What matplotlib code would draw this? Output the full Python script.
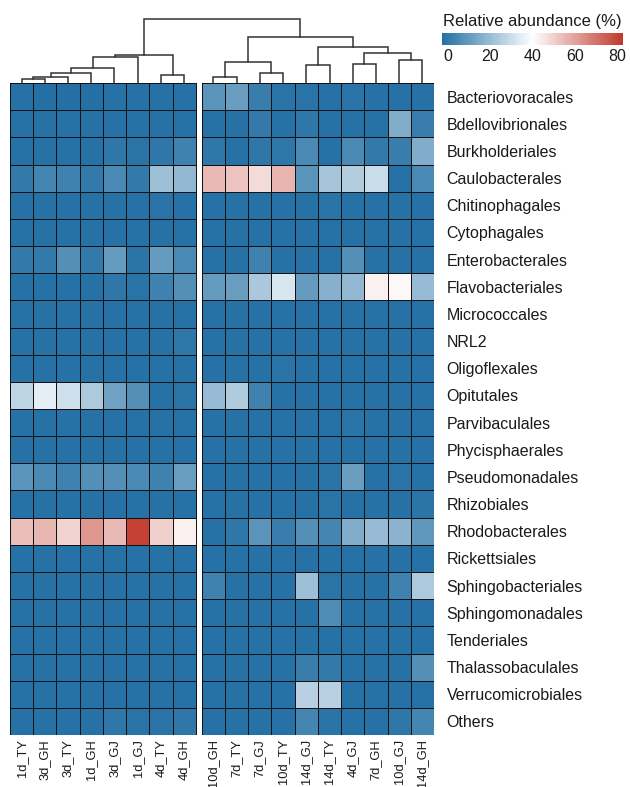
import numpy as np
import matplotlib
matplotlib.use("Agg")
import matplotlib.pyplot as plt
from matplotlib.colors import LinearSegmentedColormap, Normalize
from matplotlib.cm import ScalarMappable

plt.rcParams['font.family'] = ['Liberation Sans', 'DejaVu Sans']

# Orders (rows) and samples (columns, in clustered order)
orders = ["Bacteriovoracales", "Bdellovibrionales", "Burkholderiales", "Caulobacterales",
          "Chitinophagales", "Cytophagales", "Enterobacterales", "Flavobacteriales",
          "Micrococcales", "NRL2", "Oligoflexales", "Opitutales", "Parvibaculales",
          "Phycisphaerales", "Pseudomonadales", "Rhizobiales", "Rhodobacterales",
          "Rickettsiales", "Sphingobacteriales", "Sphingomonadales", "Tenderiales",
          "Thalassobaculales", "Verrucomicrobiales", "Others"]

samples_a = ["1d_TY", "3d_GH", "3d_TY", "1d_GH", "3d_GJ", "1d_GJ", "4d_TY", "4d_GH"]
samples_b = ["10d_GH", "7d_TY", "7d_GJ", "10d_TY", "14d_GJ", "14d_TY", "4d_GJ", "7d_GH",
             "10d_GJ", "14d_GH"]

# Relative abundance (%), cluster 1 (early samples)
abund_a = [
    [0.5, 0.3, 0.3, 0.3, 0.5, 0.5, 0.5, 0.5],
    [0.5, 0.5, 0.5, 0.5, 0.5, 0.5, 0.5, 0.5],
    [0.5, 0.5, 0.5, 0.5, 2, 1, 2, 5],
    [3, 6, 5, 3, 7, 3, 22, 20],
    [0.5, 0.5, 0.5, 0.5, 0.5, 0.5, 1, 0.5],
    [0.5, 0.5, 0.5, 0.5, 0.5, 0.5, 0.5, 0.5],
    [3, 3, 9, 3, 12, 1.5, 12, 7],
    [0.5, 0.5, 0.5, 0.5, 2, 1, 5, 9],
    [0.5, 0.5, 0.5, 0.5, 0.5, 0.5, 0.5, 0.5],
    [0.5, 0.5, 0.5, 0.5, 0.5, 0.5, 0.5, 2],
    [0.5, 0.5, 0.5, 0.5, 0.5, 0.5, 0.5, 0.5],
    [28, 35, 31, 25, 14, 9, 0.5, 1],
    [0.5, 0.5, 0.5, 0.5, 0.5, 0.5, 0.5, 0.5],
    [0.5, 0.5, 0.5, 0.5, 0.5, 0.5, 0.5, 0.5],
    [10, 7, 5, 9, 9, 7, 5, 13],
    [0.5, 0.5, 0.5, 0.5, 0.5, 0.5, 0.5, 0.5],
    [53, 54.5, 49, 61, 54, 78, 49.5, 43],
    [0.5, 0.5, 0.5, 0.5, 0.5, 0.5, 0.5, 0.5],
    [0.5, 0.5, 0.5, 0.5, 0.5, 0.5, 0.5, 0.5],
    [0.5, 0.5, 0.5, 0.5, 0.5, 0.5, 0.5, 0.5],
    [0.5, 0.5, 0.5, 0.5, 0.5, 0.5, 0.5, 0.5],
    [0.5, 0.5, 0.5, 0.5, 0.5, 0.5, 0.5, 0.5],
    [0.5, 0.5, 0.5, 0.5, 0.5, 0.5, 0.5, 0.5],
    [0.5, 0.5, 0.5, 0.5, 2, 1, 1, 2],
]

# Relative abundance (%), cluster 2 (later samples)
abund_b = [
    [10, 13, 4, 1, 1, 0.5, 1.5, 0.5, 0.5, 0.5],
    [0.5, 0.5, 3, 0.5, 2, 0.5, 0.5, 0.5, 17, 4],
    [2, 0.5, 2, 2, 7, 0.5, 7, 3, 4, 17],
    [54, 52, 47, 55, 10, 24, 26, 30, 0.5, 7],
    [0.5, 0.5, 0.5, 0.5, 0.5, 1.5, 0.5, 0.5, 0.5, 0.5],
    [0.5, 0.5, 0.5, 0.5, 0.5, 0.5, 0.5, 0.5, 0.5, 0.5],
    [0.5, 0.5, 5, 0.5, 0.5, 0.5, 9, 0.5, 0.5, 0.5],
    [12, 13, 24.5, 33, 12, 18, 20, 43, 41.5, 21],
    [0.5, 0.5, 0.5, 0.5, 0.5, 0.5, 0.5, 0.5, 0.5, 0.5],
    [0.5, 0.5, 0.5, 0.5, 0.5, 0.5, 0.5, 0.5, 0.5, 0.5],
    [0.5, 0.5, 0.5, 1.5, 0.5, 0.5, 0.5, 0.5, 0.5, 0.5],
    [21, 25.5, 5, 0.5, 0.5, 0.5, 0.5, 0.5, 0.5, 0.5],
    [0.5, 0.5, 0.5, 0.5, 0.5, 0.5, 1.5, 0.5, 0.5, 0.5],
    [0.5, 0.5, 0.5, 0.5, 0.5, 0.5, 0.5, 0.5, 0.5, 0.5],
    [0.5, 0.5, 0.5, 0.5, 0.5, 1.5, 13, 0.5, 1.5, 0.5],
    [0.5, 0.5, 0.5, 0.5, 0.5, 1.5, 0.5, 0.5, 0.5, 1.5],
    [0.5, 2, 10, 4, 9, 6, 17, 21, 19, 11],
    [0.5, 0.5, 0.5, 0.5, 0.5, 0.5, 0.5, 0.5, 0.5, 0.5],
    [5, 0.5, 0.5, 0.5, 22, 1, 0.5, 0.5, 5, 25],
    [0.5, 0.5, 0.5, 0.5, 0.5, 8, 0.5, 0.5, 0.5, 0.5],
    [0.5, 0.5, 0.5, 0.5, 0.5, 0.5, 0.5, 0.5, 0.5, 0.5],
    [0.5, 0.5, 0.5, 0.5, 4, 3, 0.5, 0.5, 0.5, 9],
    [0.5, 0.5, 0.5, 0.5, 27, 27, 0.5, 0.5, 0.5, 0.5],
    [0.5, 0.5, 0.5, 0.5, 6, 1.5, 0.5, 0.5, 2, 6],
]

# Column clustering: (child, child, height); leaves 0-17, new nodes from 18
merge_left = [0, 18, 19, 20, 21, 6, 22, 8, 10, 25, 12, 14, 16, 29, 28, 27, 24]
merge_right = [1, 2, 3, 4, 5, 7, 23, 9, 11, 26, 13, 15, 17, 30, 31, 32, 33]
merge_height = [4.0, 6.3, 10.0, 15.0, 25.7, 7.7, 28.0, 5.7, 9.7, 21.3,
                17.7, 18.7, 23.0, 29.7, 35.7, 46.3, 63.7]

W, H = 630, 787
fig = plt.figure(figsize=(W / 100, H / 100), dpi=100)

cmap = LinearSegmentedColormap.from_list("abund", ["#2470A4", "#FFFFFF", "#C0392B"])
vmin, vmax = 0, 80
gap = 0.26
text_col = "#1a1a1a"

n_rows = len(orders)
na, nb = len(samples_a), len(samples_b)
xa = np.arange(na + 1)
xb = na + gap + np.arange(nb + 1)
yy = np.arange(n_rows + 1)

ax = fig.add_axes([10 / W, 1 - 735 / H, 424 / W, 652 / H])
ax.pcolormesh(xa, yy, np.array(abund_a), cmap=cmap, vmin=vmin, vmax=vmax,
              edgecolors="#111111", linewidth=0.6)
ax.pcolormesh(xb, yy, np.array(abund_b), cmap=cmap, vmin=vmin, vmax=vmax,
              edgecolors="#111111", linewidth=0.6)
ax.set_xlim(0, na + gap + nb)
ax.set_ylim(n_rows, 0)
for s in ax.spines.values():
    s.set_visible(False)

centers = list(np.arange(na) + 0.5) + list(na + gap + np.arange(nb) + 0.5)
ax.set_xticks(centers)
ax.set_xticklabels(samples_a + samples_b, rotation=90, fontsize=9.3, color=text_col)
ax.set_yticks(np.arange(n_rows) + 0.5)
ax.set_yticklabels(orders, fontsize=11.5, color=text_col)
ax.yaxis.tick_right()
ax.tick_params(axis="y", length=0, pad=9)
ax.tick_params(axis="x", length=0, pad=3)

# Dendrogram above the columns
dax = fig.add_axes([10 / W, 1 - 83 / H, 424 / W, 68 / H], sharex=ax)
node_x = list(centers)
node_h = [0.0] * len(centers)
for l, r, h in zip(merge_left, merge_right, merge_height):
    xl, xr = node_x[l], node_x[r]
    dax.plot([xl, xl, xr, xr], [node_h[l], h, h, node_h[r]],
             color="#333333", lw=1.1, solid_joinstyle="miter")
    node_x.append((xl + xr) / 2)
    node_h.append(h)
dax.set_ylim(0, 68)
dax.axis("off")

# Colour key (scale padded slightly so the end labels sit inside the bar)
cax = fig.add_axes([442 / W, 1 - 45 / H, 181 / W, 12 / H])
key = ScalarMappable(norm=Normalize(vmin - 2.5, vmax + 2.5), cmap=cmap)
cb = fig.colorbar(key, cax=cax, orientation="horizontal", ticks=[0, 20, 40, 60, 80])
cb.outline.set_visible(False)
cax.tick_params(length=0, labelsize=11.5, pad=3, colors=text_col)
cax.set_title("Relative abundance (%)", fontsize=12, pad=5, color=text_col)

fig.savefig("out.png", dpi=100)
